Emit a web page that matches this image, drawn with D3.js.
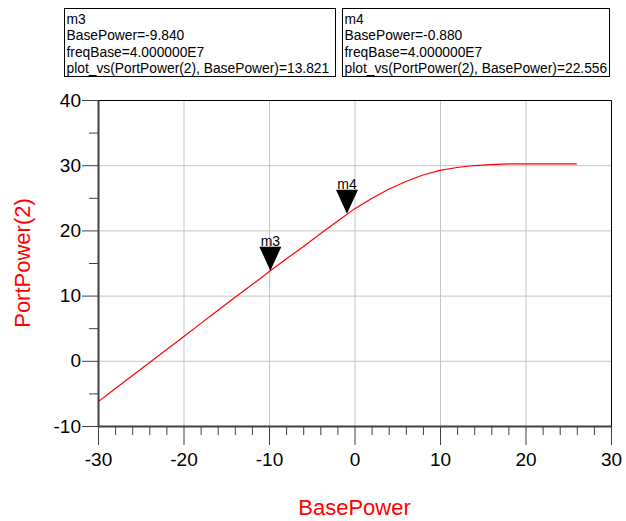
<!DOCTYPE html>
<html>
<head>
<meta charset="utf-8">
<script src="https://cdn.jsdelivr.net/npm/d3@7"></script>
<style>
  body { margin: 0; background: #fff; }
  svg { display: block; font-family: "Liberation Sans", Arial, sans-serif; }
  .tick text { font-size: 19px; fill: #000; }
  .grid line { stroke: #c4c4c4; stroke-width: 1; }
  .grid .domain { display: none; }
</style>
</head>
<body>
<div class="chart"></div>
<script>
// chart values
var basePower = [-30, -28, -26, -24, -22, -20, -18, -16, -14, -12, -10, -8, -6, -4, -2,
                 0, 2, 4, 6, 8, 10, 12, 14, 16, 18, 20, 22, 24, 26];
var portPower = [-6.3, -4.3, -2.3, -0.3, 1.7, 3.7, 5.7, 7.7, 9.7, 11.66, 13.66, 15.6, 17.5, 19.5, 21.4,
                 23.3, 24.9, 26.3, 27.5, 28.5, 29.2, 29.65, 29.95, 30.1, 30.2, 30.2, 30.2, 30.2, 30.2];
var xTicks = [-30, -20, -10, 0, 10, 20, 30];
var yTicks = [-10, 0, 10, 20, 30, 40];
var markerNames = ['m3', 'm4'];
var markerX = [-9.840, -0.880];
var markerY = [13.821, 22.556];
var markerText = [
  ['m3', 'BasePower=-9.840', 'freqBase=4.000000E7', 'plot_vs(PortPower(2), BasePower)=13.821'],
  ['m4', 'BasePower=-0.880', 'freqBase=4.000000E7', 'plot_vs(PortPower(2), BasePower)=22.556']
];

// bounds
var svgWidth = 626;
var svgHeight = 521;
var margin = {top: 100, right: 15, bottom: 95, left: 98};
var width = svgWidth - margin.left - margin.right;
var height = svgHeight - margin.top - margin.bottom;

var svg = d3.select('.chart')
  .append('svg')
  .attr('width', svgWidth)
  .attr('height', svgHeight);

var chart = svg.append('g')
  .attr('transform', 'translate(' + margin.left + ',' + margin.top + ')');

var x = d3.scaleLinear().domain([-30, 30]).range([0, width]);
var y = d3.scaleLinear().domain([-10, 40]).range([height, 0]);
var plain = function(d) { return String(d); };   // keep ascii hyphen for negatives

// grid
chart.append('g').attr('class', 'grid')
  .attr('transform', 'translate(0,' + height + ')')
  .call(d3.axisBottom(x).tickValues(xTicks.slice(1, -1)).tickSize(-height).tickFormat(''));
chart.append('g').attr('class', 'grid')
  .call(d3.axisLeft(y).tickValues(yTicks.slice(1, -1)).tickSize(-width).tickFormat(''));

// frame top/right
chart.append('path')
  .attr('d', 'M0,0.5H' + (width + 0.5) + 'V' + height)
  .attr('fill', 'none')
  .attr('stroke', '#000')
  .attr('stroke-width', 1);

// minor ticks
var xMinor = d3.range(-30, 31, 2).filter(function(d) { return d % 10 !== 0; });
var yMinor = d3.range(-5, 40, 10);
chart.append('g')
  .attr('transform', 'translate(0,' + height + ')')
  .call(d3.axisBottom(x).tickValues(xMinor).tickSize(9).tickFormat(''))
  .call(function(g) { g.select('.domain').remove(); g.selectAll('line').attr('stroke', '#404040'); });
chart.append('g')
  .call(d3.axisLeft(y).tickValues(yMinor).tickSize(9).tickFormat(''))
  .call(function(g) { g.select('.domain').remove(); g.selectAll('line').attr('stroke', '#404040'); });

// major axes
var xAxis = chart.append('g')
  .attr('transform', 'translate(0,' + height + ')')
  .call(d3.axisBottom(x).tickValues(xTicks).tickFormat(plain).tickSize(19).tickPadding(8).tickSizeOuter(0));
var yAxis = chart.append('g')
  .call(d3.axisLeft(y).tickValues(yTicks).tickFormat(plain).tickSize(16).tickPadding(1).tickSizeOuter(0));
[xAxis, yAxis].forEach(function(g) {
  g.attr('font-family', null).attr('font-size', null);
  g.select('.domain').attr('stroke', '#404040').attr('stroke-width', 2);
  g.selectAll('.tick line').attr('stroke', '#404040');
});

// curve
var line = d3.line()
  .x(function(d, i) { return x(basePower[i]); })
  .y(function(d) { return y(d); });
chart.append('path')
  .datum(portPower)
  .attr('d', line)
  .attr('fill', 'none')
  .attr('stroke', '#ff0000')
  .attr('stroke-width', 1.2);

// markers
markerNames.forEach(function(name, i) {
  var px = x(markerX[i]);
  var py = y(markerY[i]);
  chart.append('path')
    .attr('d', 'M' + px + ',' + py + 'L' + (px - 11) + ',' + (py - 24) + 'L' + (px + 11) + ',' + (py - 24) + 'Z')
    .attr('fill', '#000');
  chart.append('text')
    .attr('x', px)
    .attr('y', py - 25)
    .attr('text-anchor', 'middle')
    .attr('font-size', '14px')
    .text(name);
});

// marker readout boxes
var boxX = [64.5, 342.5];
var boxW = [271, 267];
markerText.forEach(function(lines, i) {
  var g = svg.append('g');
  g.append('rect')
    .attr('x', boxX[i]).attr('y', 8.5)
    .attr('width', boxW[i]).attr('height', 68)
    .attr('fill', '#fff').attr('stroke', '#000');
  lines.forEach(function(t, j) {
    g.append('text')
      .attr('x', boxX[i] + 2)
      .attr('y', 23.5 + j * 16.5)
      .attr('font-size', '13.8px')
      .text(t);
  });
});

// axis titles
svg.append('text')
  .attr('x', margin.left + width / 2)
  .attr('y', 515)
  .attr('text-anchor', 'middle')
  .attr('font-size', '22px')
  .attr('fill', '#ff0000')
  .text('BasePower');
svg.append('text')
  .attr('transform', 'translate(30,' + (margin.top + height / 2) + ') rotate(-90)')
  .attr('text-anchor', 'middle')
  .attr('font-size', '22px')
  .attr('fill', '#ff0000')
  .text('PortPower(2)');
</script>
</body>
</html>
